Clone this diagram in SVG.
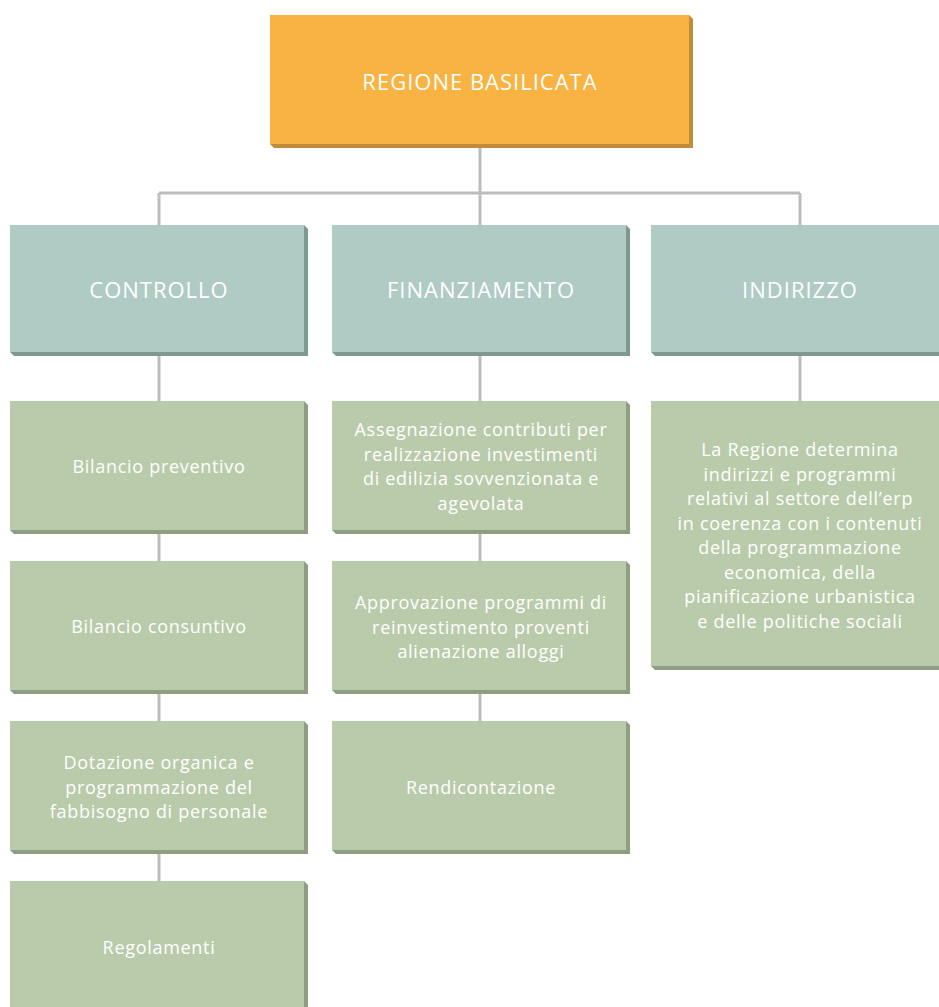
<svg xmlns="http://www.w3.org/2000/svg" width="939" height="1007" viewBox="0 0 939 1007">
<style>
.t{font-family:"Open Sans","Liberation Sans",sans-serif;fill:#fff;text-anchor:middle;font-weight:500}
.h{font-size:22px;letter-spacing:1px}
.n{font-size:18px;letter-spacing:0.7px}
.or{fill:#F8B342}.ors{fill:#C08B3A}
.tl{fill:#AFCBC3}.tls{fill:#7F9992}
.gr{fill:#B9CBAA}.grs{fill:#8E9E82}
.c{stroke:#BDBDBD;stroke-width:3;fill:none}
</style>
<rect width="939" height="1007" fill="#fff"/>
<g id="connectors">
<path class="c" d="M480 146V193M159 193H800M159 193V226M480 193V226M800 193V226"/>
<path class="c" d="M159 354V402M159 532V562M159 692V722M159 852V882"/>
<path class="c" d="M480 354V402M480 532V562M480 692V722"/>
<path class="c" d="M800 354V402"/>
</g>
<g id="regione">
<polygon class="ors" points="689,15 693,19 693,148 274,148 270,144"/>
<rect class="or" x="270" y="15" width="419" height="129"/>
<text class="t h" x="480" y="90">REGIONE BASILICATA</text>
</g>
<g id="controllo">
<polygon class="tls" points="304,225 308,229 308,356 14,356 10,352"/>
<rect class="tl" x="10" y="225" width="294" height="127"/>
<text class="t h" x="159" y="298">CONTROLLO</text>
</g>
<g id="finanziamento">
<polygon class="tls" points="626,225 630,229 630,356 336,356 332,352"/>
<rect class="tl" x="332" y="225" width="294" height="127"/>
<text class="t h" x="481" y="298">FINANZIAMENTO</text>
</g>
<g id="indirizzo">
<polygon class="tls" points="939,225 943,229 943,356 655,356 651,352"/>
<rect class="tl" x="651" y="225" width="292" height="127"/>
<text class="t h" x="800" y="298">INDIRIZZO</text>
</g>
<g id="bilancio-preventivo">
<polygon class="grs" points="304,401 308,405 308,534 14,534 10,530"/>
<rect class="gr" x="10" y="401" width="294" height="129"/>
<text class="t n" x="159" y="473">Bilancio preventivo</text>
</g>
<g id="bilancio-consuntivo">
<polygon class="grs" points="304,561 308,565 308,694 14,694 10,690"/>
<rect class="gr" x="10" y="561" width="294" height="129"/>
<text class="t n" x="159" y="633">Bilancio consuntivo</text>
</g>
<g id="dotazione">
<polygon class="grs" points="304,721 308,725 308,854 14,854 10,850"/>
<rect class="gr" x="10" y="721" width="294" height="129"/>
<text class="t n" x="159" y="769">Dotazione organica e</text>
<text class="t n" x="159" y="793.5">programmazione del</text>
<text class="t n" x="159" y="818">fabbisogno di personale</text>
</g>
<g id="regolamenti">
<polygon class="grs" points="304,881 308,885 308,1014 14,1014 10,1010"/>
<rect class="gr" x="10" y="881" width="294" height="129"/>
<text class="t n" x="159" y="954">Regolamenti</text>
</g>
<g id="assegnazione">
<polygon class="grs" points="626,401 630,405 630,534 336,534 332,530"/>
<rect class="gr" x="332" y="401" width="294" height="129"/>
<text class="t n" x="481" y="436">Assegnazione contributi per</text>
<text class="t n" x="481" y="460.5">realizzazione investimenti</text>
<text class="t n" x="481" y="485">di edilizia sovvenzionata e</text>
<text class="t n" x="481" y="509.5">agevolata</text>
</g>
<g id="approvazione">
<polygon class="grs" points="626,561 630,565 630,694 336,694 332,690"/>
<rect class="gr" x="332" y="561" width="294" height="129"/>
<text class="t n" x="481" y="609">Approvazione programmi di</text>
<text class="t n" x="481" y="633.5">reinvestimento proventi</text>
<text class="t n" x="481" y="658">alienazione alloggi</text>
</g>
<g id="rendicontazione">
<polygon class="grs" points="626,721 630,725 630,854 336,854 332,850"/>
<rect class="gr" x="332" y="721" width="294" height="129"/>
<text class="t n" x="481" y="794">Rendicontazione</text>
</g>
<g id="regione-determina">
<polygon class="grs" points="939,401 943,405 943,670 655,670 651,666"/>
<rect class="gr" x="651" y="401" width="292" height="265"/>
<text class="t n" x="800" y="456">La Regione determina</text>
<text class="t n" x="800" y="480.5">indirizzi e programmi</text>
<text class="t n" x="800" y="505">relativi al settore dell’erp</text>
<text class="t n" x="800" y="529.5">in coerenza con i contenuti</text>
<text class="t n" x="800" y="554">della programmazione</text>
<text class="t n" x="800" y="578.5">economica, della</text>
<text class="t n" x="800" y="603">pianificazione urbanistica</text>
<text class="t n" x="800" y="627.5">e delle politiche sociali</text>
</g>
</svg>
